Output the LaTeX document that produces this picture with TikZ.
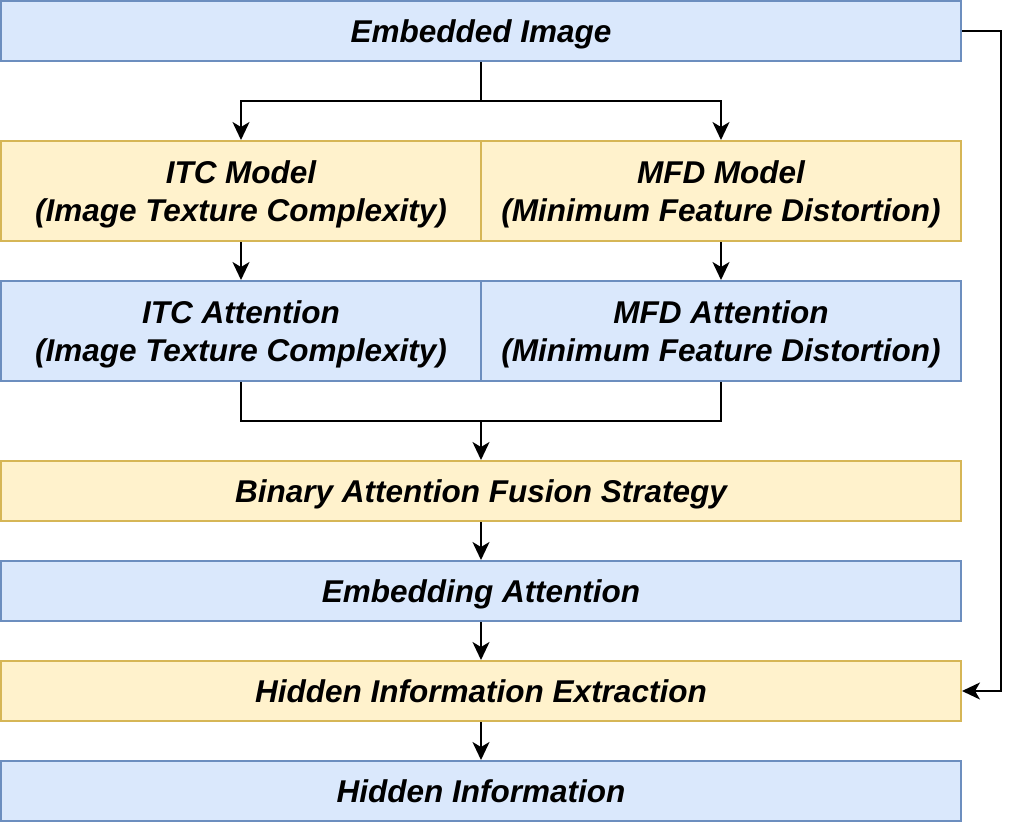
\documentclass[tikz,border=0pt]{standalone}
\usepackage{fontspec}
\setmainfont{Liberation Sans}
\usetikzlibrary{arrows.meta}
\definecolor{bfill}{HTML}{DAE8FC}
\definecolor{bline}{HTML}{6C8EBF}
\definecolor{yfill}{HTML}{FFF2CC}
\definecolor{yline}{HTML}{D6B656}
\begin{document}
\begin{tikzpicture}[x=1pt,y=-1pt,
  box/.style={draw, line width=2pt, inner sep=0pt, align=center, text depth=0pt,
    font=\fontsize{31.5}{38.4}\selectfont\bfseries\itshape},
  bbox/.style={box, fill=bfill, draw=bline},
  ybox/.style={box, fill=yfill, draw=yline},
  conn/.style={line width=2pt, -{Stealth[length=18pt,width=17pt,inset=5pt]}},
  seg/.style={line width=2pt}]
\useasboundingbox (0,0) rectangle (1018,822);
\node[bbox, minimum width=960pt, minimum height=60pt] (emb) at (481,31) {Embedded Image};
\node[ybox, minimum width=480pt, minimum height=100pt] (itcm) at (241,191) {ITC Model\\(Image Texture Complexity)};
\node[ybox, minimum width=480pt, minimum height=100pt] (mfdm) at (721,191) {MFD Model\\(Minimum Feature Distortion)};
\node[bbox, minimum width=480pt, minimum height=100pt] (itca) at (241,331) {ITC Attention\\(Image Texture Complexity)};
\node[bbox, minimum width=480pt, minimum height=100pt] (mfda) at (721,331) {MFD Attention\\(Minimum Feature Distortion)};
\node[ybox, minimum width=960pt, minimum height=60pt] (bin) at (481,491) {Binary Attention Fusion Strategy};
\node[bbox, minimum width=960pt, minimum height=60pt] (ea) at (481,591) {Embedding Attention};
\node[ybox, minimum width=960pt, minimum height=60pt] (hie) at (481,691) {Hidden Information Extraction};
\node[bbox, minimum width=960pt, minimum height=60pt] (hi) at (481,791) {Hidden Information};
\coordinate (split) at (481,101);
\coordinate (join) at (481,421);
\draw[seg] (emb.south) -- (split);
\draw[conn] (split) -| (itcm.north);
\draw[conn] (split) -| (mfdm.north);
\draw[conn] (itcm.south) -- (itca.north);
\draw[conn] (mfdm.south) -- (mfda.north);
\draw[seg] (itca.south) |- (join);
\draw[seg] (mfda.south) |- (join);
\draw[conn] (join) -- (bin.north);
\draw[conn] (bin.south) -- (ea.north);
\draw[conn] (ea.south) -- (hie.north);
\draw[conn] (hie.south) -- (hi.north);
\draw[conn] (emb.east) -- (1001,31) -- (1001,691) -- (hie.east);
\end{tikzpicture}
\end{document}
